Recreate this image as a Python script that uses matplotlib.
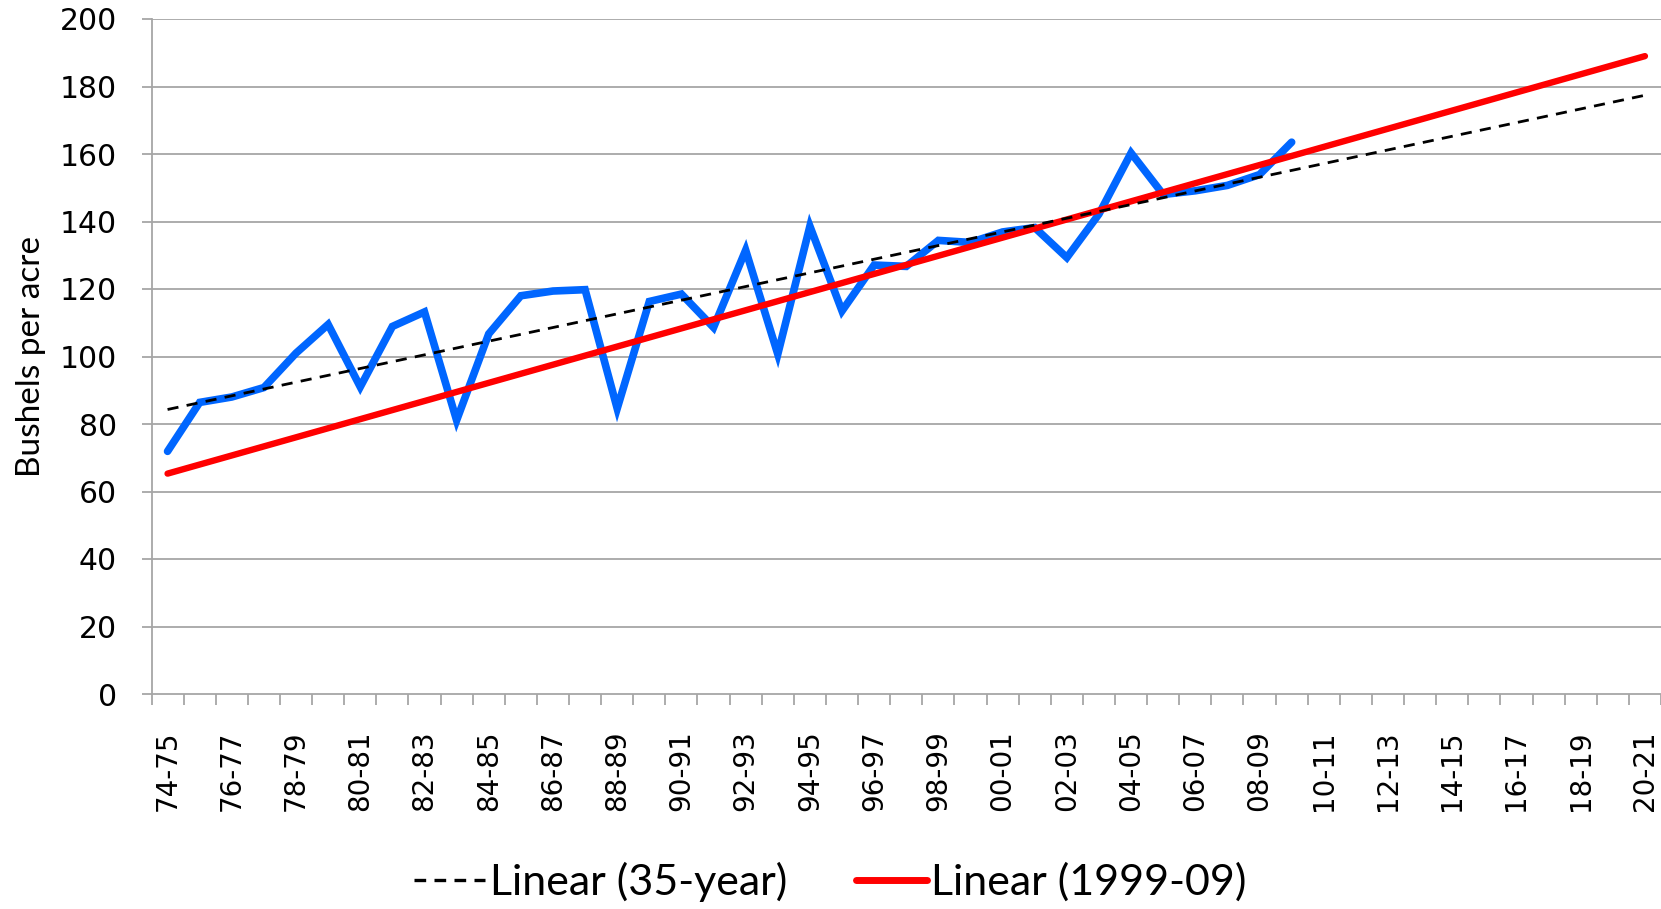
import matplotlib
matplotlib.use("Agg")
import matplotlib.pyplot as plt
from matplotlib.lines import Line2D

# --- data ---
categories = ["74-75", "75-76", "76-77", "77-78", "78-79", "79-80", "80-81", "81-82",
              "82-83", "83-84", "84-85", "85-86", "86-87", "87-88", "88-89", "89-90",
              "90-91", "91-92", "92-93", "93-94", "94-95", "95-96", "96-97", "97-98",
              "98-99", "99-00", "00-01", "01-02", "02-03", "03-04", "04-05", "05-06",
              "06-07", "07-08", "08-09", "09-10", "10-11", "11-12", "12-13", "13-14",
              "14-15", "15-16", "16-17", "17-18", "18-19", "19-20", "20-21"]
yields = [71.9, 86.4, 88.0, 90.8, 101.0, 109.5, 91.0, 108.9, 113.2, 81.1, 106.7, 118.0,
          119.4, 119.8, 84.6, 116.3, 118.5, 108.6, 131.5, 100.7, 138.6, 113.5, 127.1,
          126.7, 134.4, 133.8, 136.9, 138.2, 129.3, 142.2, 160.3, 148.0, 149.1, 150.7,
          153.9, 163.5]
trend35_ends = [84.3, 177.4]      # values at 74-75 and 20-21
trend9909_ends = [65.3, 189.0]    # values at 74-75 and 20-21
legend_labels = ["Linear (35-year)", "Linear (1999-09)"]
y_label = "Bushels per acre"

W, H = 1661, 909
fig = plt.figure(figsize=(W / 100, H / 100), dpi=100)
ax = fig.add_axes([151.5 / W, 1 - 694 / H, 1 - 151.5 / W, (694 - 19) / H])

n = len(categories)
xs = list(range(n))
grid_c = "#a6a6a6"

for y in range(20, 201, 20):
    ax.axhline(y, color=grid_c, lw=1.3, zorder=0)

ax.plot(xs[:len(yields)], yields, color="#0066ff", lw=5.5, solid_joinstyle="miter",
        solid_capstyle="round", zorder=2)
ax.plot([0, n - 1], trend9909_ends, color="#ff0000", lw=4.6, solid_capstyle="round", zorder=3)
ax.plot([0, n - 1], trend35_ends, color="black", lw=2.0, dashes=(4, 3), zorder=4)

ax.set_xlim(-0.5, n - 0.5)
ax.set_ylim(0, 200)

for s in ["top", "right"]:
    ax.spines[s].set_visible(False)
ax.spines["left"].set_color(grid_c)
ax.spines["bottom"].set_color(grid_c)
ax.spines["left"].set_linewidth(1.3)
ax.spines["bottom"].set_linewidth(1.3)

# y ticks
ax.set_yticks(range(0, 201, 20))
ax.tick_params(axis="y", length=7, color=grid_c, width=1.3, labelsize=21.5, pad=18)

# x ticks: boundaries (major, no labels) and centers (minor, labels)
ax.set_xticks([i - 0.5 for i in range(n + 1)])
ax.set_xticklabels([])
ax.tick_params(axis="x", which="major", length=8, color=grid_c, width=1.3)
ax.set_xticks(xs, minor=True)
ax.set_xticklabels([c if i % 2 == 0 else "" for i, c in enumerate(categories)],
                   minor=True, rotation=90, fontsize=20)
ax.tick_params(axis="x", which="minor", length=0, pad=26)

ax.set_ylabel(y_label, fontsize=24, family="Lato", labelpad=10)

handles = [Line2D([0], [0], color="black", lw=2.4, dashes=(3.5, 2.5)),
           Line2D([0], [0], color="#ff0000", lw=5.0, solid_capstyle="round")]
fig.legend(handles, legend_labels, loc="center", bbox_to_anchor=(0.5, 1 - 882 / H),
           ncol=2, frameon=False, prop={"family": "Lato", "size": 31},
           handlelength=1.65, handletextpad=0.1, columnspacing=1.6)

fig.savefig("out.png", dpi=100)
